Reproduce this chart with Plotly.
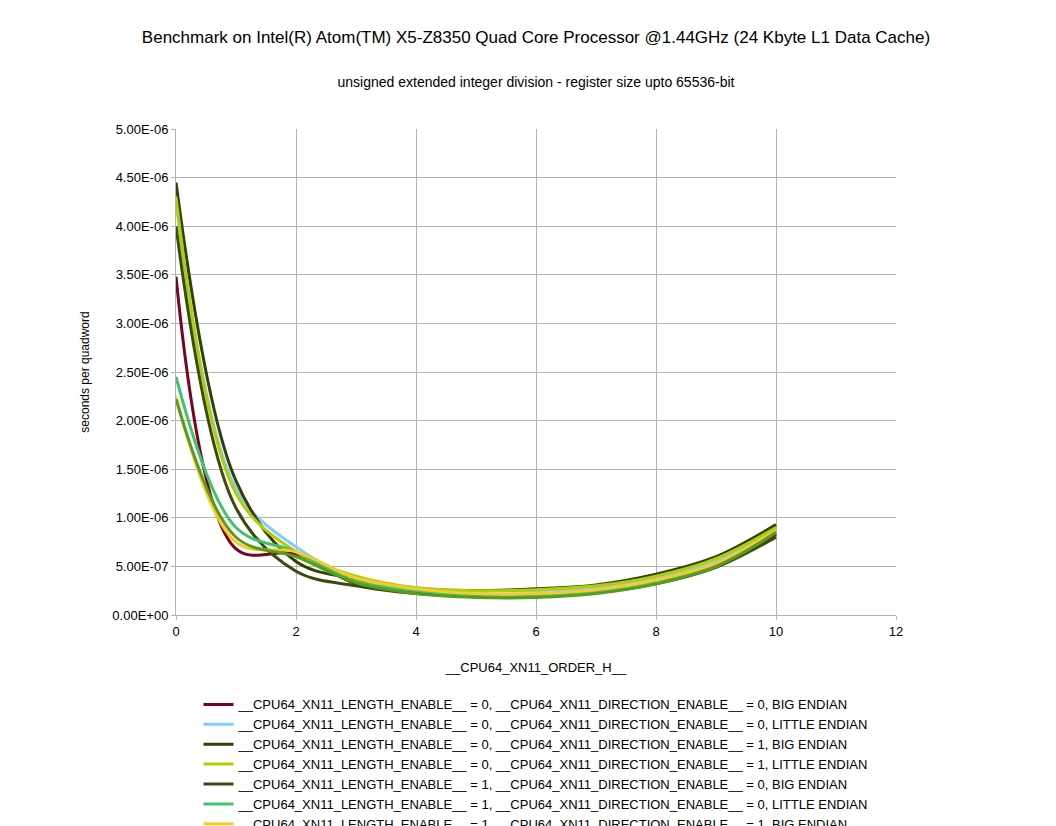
import plotly.graph_objects as go

x = [0, 1, 2, 3, 4, 5, 6, 7, 8, 9, 10]

names = [
    "__CPU64_XN11_LENGTH_ENABLE__ = 0, __CPU64_XN11_DIRECTION_ENABLE__ = 0, BIG ENDIAN",
    "__CPU64_XN11_LENGTH_ENABLE__ = 0, __CPU64_XN11_DIRECTION_ENABLE__ = 0, LITTLE ENDIAN",
    "__CPU64_XN11_LENGTH_ENABLE__ = 0, __CPU64_XN11_DIRECTION_ENABLE__ = 1, BIG ENDIAN",
    "__CPU64_XN11_LENGTH_ENABLE__ = 0, __CPU64_XN11_DIRECTION_ENABLE__ = 1, LITTLE ENDIAN",
    "__CPU64_XN11_LENGTH_ENABLE__ = 1, __CPU64_XN11_DIRECTION_ENABLE__ = 0, BIG ENDIAN",
    "__CPU64_XN11_LENGTH_ENABLE__ = 1, __CPU64_XN11_DIRECTION_ENABLE__ = 0, LITTLE ENDIAN",
    "__CPU64_XN11_LENGTH_ENABLE__ = 1, __CPU64_XN11_DIRECTION_ENABLE__ = 1, BIG ENDIAN",
    "__CPU64_XN11_LENGTH_ENABLE__ = 1, __CPU64_XN11_DIRECTION_ENABLE__ = 1, LITTLE ENDIAN",
]

# values in microseconds per quadword (scaled by 1e-6 below)
s1 = [3.48, 0.68, 0.63, 0.32, 0.24, 0.20, 0.21, 0.27, 0.37, 0.53, 0.83]
s2 = [4.25, 1.30, 0.70, 0.38, 0.28, 0.25, 0.25, 0.28, 0.38, 0.55, 0.88]
s3 = [4.45, 1.38, 0.55, 0.37, 0.27, 0.25, 0.27, 0.31, 0.42, 0.60, 0.93]
s4 = [4.30, 1.25, 0.65, 0.40, 0.28, 0.25, 0.26, 0.30, 0.40, 0.58, 0.90]
s5 = [4.00, 1.10, 0.45, 0.30, 0.22, 0.19, 0.20, 0.23, 0.32, 0.49, 0.80]
s6 = [2.45, 0.90, 0.65, 0.35, 0.25, 0.20, 0.20, 0.24, 0.34, 0.50, 0.85]
s7 = [2.25, 0.75, 0.65, 0.38, 0.27, 0.22, 0.22, 0.26, 0.36, 0.53, 0.87]
s8 = [2.22, 0.80, 0.60, 0.33, 0.22, 0.18, 0.18, 0.22, 0.32, 0.50, 0.85]
series = [s1, s2, s3, s4, s5, s6, s7, s8]

colors = ["#7e0021", "#83caff", "#314004", "#aecf00", "#3b4a0e", "#3dc46c", "#ffc82a", "#579d1c"]

ytick_vals = [i * 0.5e-6 for i in range(11)]
ytick_text = ["0.00E+00", "5.00E-07", "1.00E-06", "1.50E-06", "2.00E-06", "2.50E-06",
              "3.00E-06", "3.50E-06", "4.00E-06", "4.50E-06", "5.00E-06"]

fig = go.Figure()
for n, s, c in zip(names, series, colors):
    fig.add_trace(go.Scatter(x=x, y=[v * 1e-6 for v in s], name=n, mode="lines",
                             line=dict(color=c, width=3, shape="spline", smoothing=1.0)))

fig.update_layout(
    width=1056, height=826,
    paper_bgcolor="white", plot_bgcolor="white",
    font=dict(family="Liberation Sans, Arial", size=13, color="black"),
    title=dict(text="Benchmark on Intel(R) Atom(TM) X5-Z8350 Quad Core Processor @1.44GHz (24 Kbyte L1 Data Cache)"
                    "<br><br><span style='font-size:14px'>unsigned extended integer division - register size upto 65536-bit</span>",
               x=0.5, xanchor="center", y=0.958, yanchor="top", font=dict(size=17)),
    margin=dict(l=168, r=168, t=121, b=219, autoexpand=False),
    xaxis=dict(range=[0, 12], dtick=2, showgrid=True, gridcolor="#b3b3b3", zeroline=False,
               showline=True, linecolor="#b3b3b3", ticks="outside", ticklen=4, tickcolor="#b3b3b3",
               automargin=False,
               title=dict(text="__CPU64_XN11_ORDER_H__", standoff=25, font=dict(size=13))),
    yaxis=dict(range=[0, 5e-6], tickvals=ytick_vals, ticktext=ytick_text, showgrid=True,
               gridcolor="#b3b3b3", zeroline=False, showline=True, linecolor="#b3b3b3",
               ticks="outside", ticklen=4, tickcolor="#b3b3b3", automargin=False,
               title=dict(text="seconds per quadword", font=dict(size=12), standoff=20)),
    legend=dict(orientation="v", x=0.5, xanchor="center", yref="container", y=0.175, yanchor="top",
                font=dict(size=13), tracegroupgap=0, itemwidth=30),
)

fig.write_html("out.html")
